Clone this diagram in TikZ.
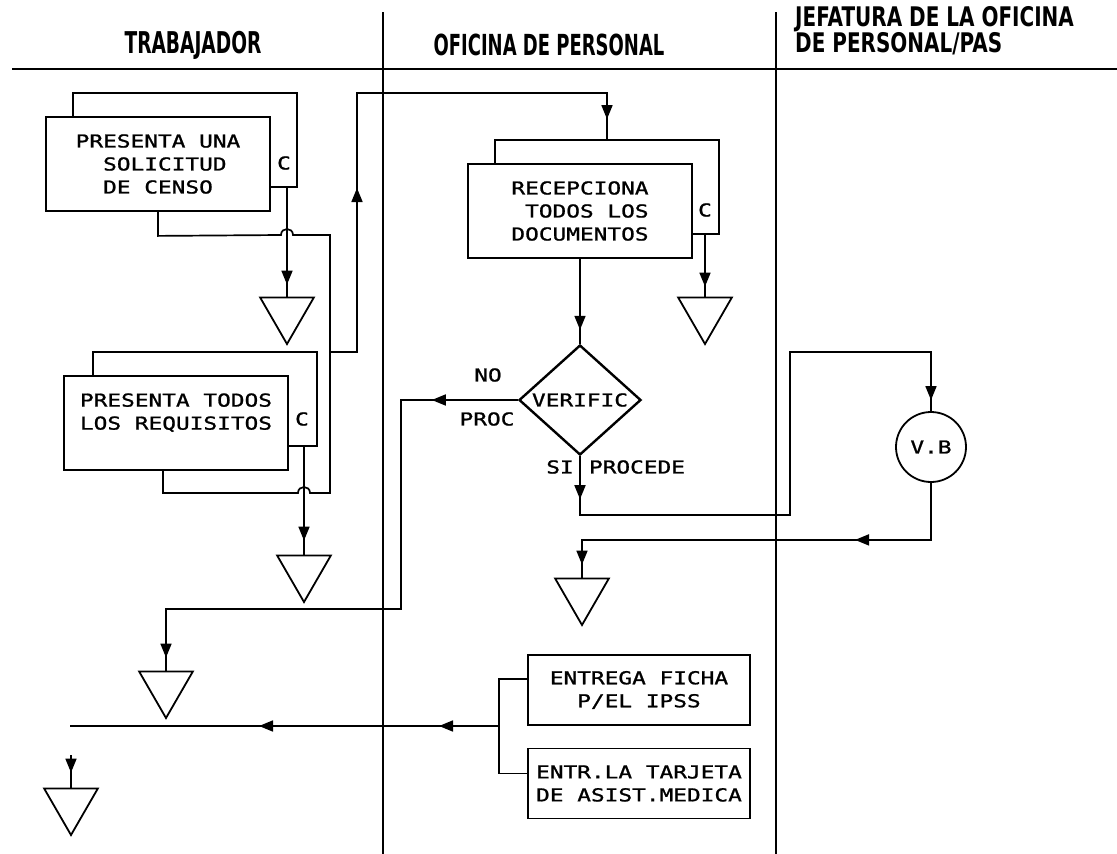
\documentclass[tikz,border=0pt]{standalone}
\usepackage{fontspec}
\usetikzlibrary{shapes.geometric,arrows.meta,decorations.markings}
\newfontfamily\hdfont[FakeStretch=0.62]{DejaVu Sans}
\newfontfamily\hdwide[FakeStretch=0.74]{DejaVu Sans}
\newfontfamily\boxfont[FakeStretch=1.28,FakeBold=1.2]{DejaVu Sans Mono}

\begin{document}
\begin{tikzpicture}[x=1pt, y=-1pt, line join=miter]
\tikzset{
	pdhead/.style={font={\hdfont\bfseries\fontsize{30}{23}\selectfont}, inner sep=0pt},
	pdtext/.style={font={\boxfont\fontsize{17.8}{23}\selectfont}, inner sep=0pt},
	pddoc/.style={pdtext, draw, line width=1.8pt, fill=white, align=left, minimum width=224pt, minimum height=94pt},
	pdout/.style={pddoc, minimum width=222pt, minimum height=70pt},
	pdsink/.style={regular polygon, regular polygon sides=3, shape border rotate=180, draw, line width=1.8pt, minimum size=62pt, inner sep=0pt},
	pddecide/.style={pdtext, diamond, draw, line width=2.4pt, minimum width=122pt, minimum height=110pt},
	pdcheck/.style={pdtext, circle, draw, line width=1.8pt, minimum size=70pt},
	pdline/.style={line width=1.7pt},
	pdlane/.style={line width=1.3pt},
	pdarr/.style={postaction={decorate, decoration={markings, mark=at position #1 with {\arrow{Triangle[length=14pt,width=11pt]}}}}}
}

\useasboundingbox (0,0) rectangle (1117,854);

\draw[line width=2.2pt] (12,69) -- (1117,69);
\draw[pdlane] (383,12) -- (383,854);
\draw[pdlane] (776,12) -- (776,854);

\node[pdhead] (hd1) at (193,45) {TRABAJADOR};
\node[pdhead, font={\hdfont\bfseries\fontsize{29}{23}\selectfont}] (hd2) at (549,45) {OFICINA DE PERSONAL};
\node[pdhead, font={\hdwide\bfseries\fontsize{27}{23}\selectfont}, align=left, anchor=west] (hd3) at (795,31) {JEFATURA DE LA OFICINA\\DE PERSONAL/PAS};

\node[pddoc] (b1c) at (185,140) {};
\node[pddoc] (b1) at (158,164) {PRESENTA UNA\\\phantom{XX}SOLICITUD\\\phantom{XX}DE CENSO};
\node[pdtext] (c1) at (284,163) {C};

\node[pddoc] (b2c) at (205,399) {};
\node[pddoc] (b2) at (176,423) {PRESENTA TODOS\\LOS REQUISITOS\\~};
\node[pdtext] (c2) at (302,419) {C};

\node[pddoc] (b3c) at (607,187) {};
\node[pddoc] (b3) at (580,211) {RECEPCIONA\\\phantom{X}TODOS LOS\\DOCUMENTOS};
\node[pdtext] (c3) at (705,210) {C};

\node[pddecide] (dec) at (580,400) {VERIFIC};
\node[pdtext] (no) at (488,375) {NO};
\node[pdtext] (proc) at (487,419) {PROC};
\node[pdtext] (si) at (560,467) {SI};
\node[pdtext] (procede) at (637,467) {PROCEDE};

\node[pdcheck] (vb) at (931,447) {V.B};

\node[pdout] (e1) at (639,690) {ENTREGA FICHA\\\phantom{XX}P/EL IPSS};
\node[pdout] (e2) at (639,783.5) {ENTR.LA TARJETA\\DE ASIST.MEDICA};

\node[pdsink] (t1) at (287,313) {};
\node[pdsink] (t2) at (304,571) {};
\node[pdsink] (t3) at (705,313) {};
\node[pdsink] (t4) at (166,687) {};
\node[pdsink] (t5) at (582,594) {};
\node[pdsink] (t6) at (71,804) {};

\coordinate (ja) at (330,352);
\coordinate (je) at (499,726);
\coordinate (endl) at (70,726);
\coordinate (offst) at (71,755);

\draw[pdline, pdarr=-12pt] (t1 |- b1c.south) -- (t1.north);
\draw[pdline, pdarr=-14pt] (t2 |- b2c.south) -- (t2.north);
\draw[pdline, pdarr=-10pt] (t3 |- b3c.south) -- (t3.north);

\draw[pdline] (b1.south) -- ++(0,24) -- (281,235) .. controls (281,227) and (293,227) .. (293,235) -- (330,235) -- (330,493) -- (310,493) .. controls (310,485) and (298,485) .. (298,493) -| ([xshift=-13pt]b2.south);
\draw[pdline, pdarr=191pt, pdarr=-20pt] (ja) -- (357,352) -- (357,93) -| (b3c.north);

\draw[pdline, pdarr=-14pt] (b3.south) -- (dec.north);
\draw[pdline, pdarr=86pt, pdarr=-13pt] (dec.west) -| (401,609) -| (t4.north);
\draw[pdline, pdarr=43pt, pdarr=-11pt] (dec.south) |- (790,515) -- (790,352) -| (vb.north);
\draw[pdline, pdarr=133pt, pdarr=-13pt] (vb.south) -- ++(0,57) -| (t5.north);

\draw[pdline] ([yshift=11pt]e1.west) -| (je) |- ([yshift=10pt]e2.west);
\draw[pdline, pdarr=60pt, pdarr=240pt] (je) -- (endl);
\draw[pdline, pdarr=-15pt] (offst) -- (t6.north);

\end{tikzpicture}
\end{document}
